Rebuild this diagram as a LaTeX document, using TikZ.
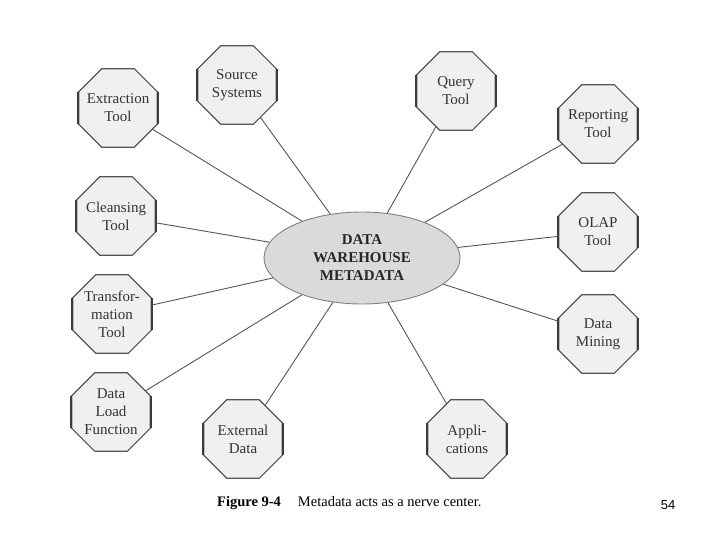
\documentclass[tikz,border=0pt]{standalone}
\usepackage{fontspec}
\setmainfont{Liberation Serif}
\newfontfamily\pagefont{Liberation Sans}
\usetikzlibrary{shapes.geometric}
\definecolor{edgegray}{HTML}{555555}
\definecolor{boxfill}{HTML}{F0F0F0}
\definecolor{hubfill}{HTML}{DADADA}
\tikzset{
  octa/.style={regular polygon, regular polygon sides=8, minimum size=85pt,
    inner sep=-14pt, draw=edgegray, line width=1.1pt, fill=boxfill,
    align=center, text=black!80, font=\fontsize{15}{18}\selectfont},
  hub/.style={ellipse, draw=gray, line width=0.9pt, fill=hubfill,
    minimum width=196pt, minimum height=92pt, inner sep=0pt, align=center,
    text=black!85, font=\fontsize{15}{18}\selectfont\bfseries},
  spoke/.style={edgegray, line width=0.9pt},
}
\begin{document}
\begin{tikzpicture}[x=1pt, y=-1pt]
\useasboundingbox (0,0) rectangle (720,540);
% hub
\node[hub] (meta) at (362,258) {DATA\\WAREHOUSE\\METADATA};
% tools round the hub
\foreach \nm/\x/\y/\txt in {
    extract/118/108/{Extraction\\Tool},
    source/237/85/{Source\\Systems},
    query/456/91/{Query\\Tool},
    report/598/124/{Reporting\\Tool},
    cleanse/116/216/{Cleansing\\Tool},
    olap/598/232/{OLAP\\Tool},
    transform/112/314/{Transfor-\\mation\\Tool},
    mining/598/334/{Data\\Mining},
    load/111/412/{Data\\Load\\Function},
    external/243/439/{External\\Data},
    apps/467/439/{Appli-\\cations}}
{
    \node[octa] (\nm) at (\x,\y) {\txt};
    \draw[edgegray!70!black, line width=1.8pt] (\nm.corner 3) -- (\nm.corner 4);
    \draw[edgegray!70!black, line width=1.8pt] (\nm.corner 7) -- (\nm.corner 8);
    \draw[spoke] (meta) -- (\nm);
}
% caption
\node[anchor=base west, inner sep=0pt, font=\fontsize{14.5}{17}\selectfont]
  (caption) at (217,506) {\textbf{Figure 9-4}\hspace{17pt}Metadata acts as a nerve center.};
\node[font=\pagefont\fontsize{13}{15}\selectfont] (pageno) at (668,505) {54};
\end{tikzpicture}
\end{document}
